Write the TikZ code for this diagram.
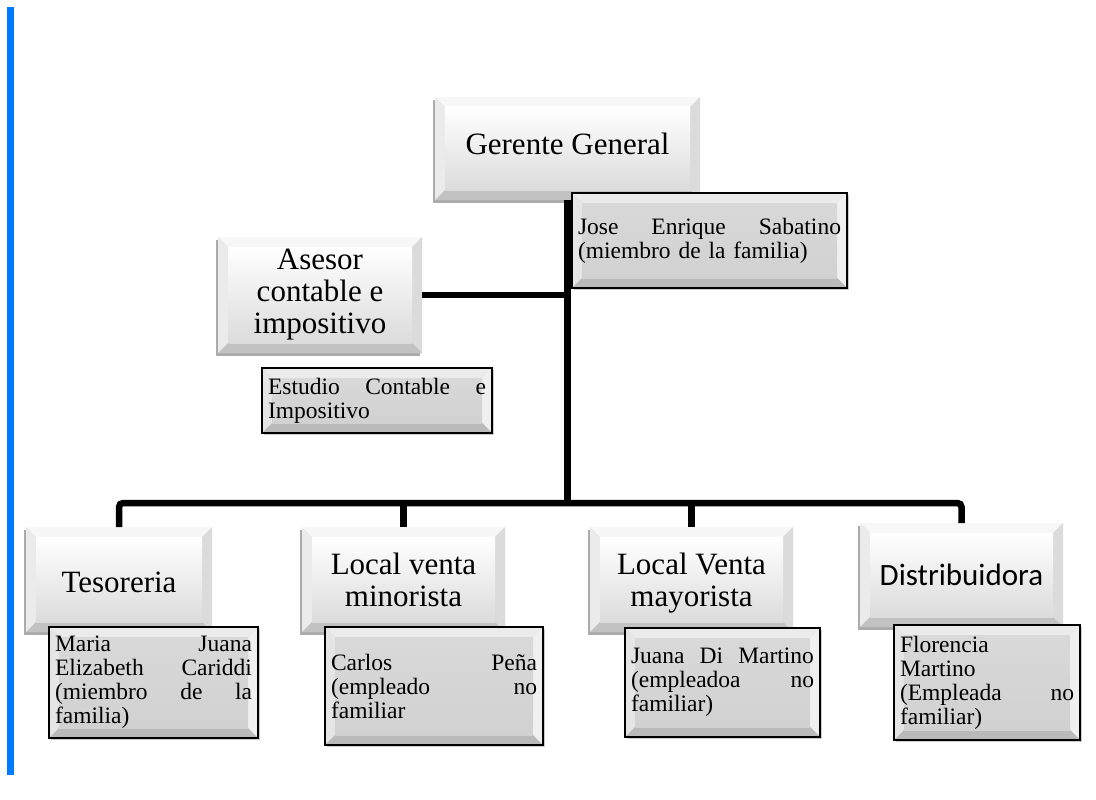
\documentclass[tikz,border=0pt]{standalone}
\usepackage{fontspec}
\setmainfont{Liberation Serif}
\newfontfamily\calibfont{Carlito}
\usetikzlibrary{calc,shadows}
\definecolor{barblue}{RGB}{0,122,255}
\newcommand\bevelfill[7]{%
  \path (path picture bounding box.north west) coordinate (pNW)
        (path picture bounding box.north east) coordinate (pNE)
        (path picture bounding box.south west) coordinate (pSW)
        (path picture bounding box.south east) coordinate (pSE);
  \path ($(pNW)+(#1,-#1)$) coordinate (qNW)
        ($(pNE)+(-#1,-#1)$) coordinate (qNE)
        ($(pSW)+(#1,#1)$) coordinate (qSW)
        ($(pSE)+(-#1,#1)$) coordinate (qSE);
  \fill[#2] (pNW)--(pNE)--(qNE)--(qNW)--cycle;
  \fill[#3] (pNW)--(qNW)--(qSW)--(pSW)--cycle;
  \fill[#4] (pNE)--(pSE)--(qSE)--(qNE)--cycle;
  \fill[#5] (pSW)--(qSW)--(qSE)--(pSE)--cycle;
  \shade[top color=#6,bottom color=#7] (qNW) rectangle (qSE);
}
\newcommand\nodepth[1]{\raisebox{0pt}[\height][0pt]{#1}}
\begin{document}
\begin{tikzpicture}[x=1pt,y=-1pt,
  namebox/.style={rectangle, inner sep=0pt, outer sep=0pt, align=center,
    font=\fontsize{31}{32}\selectfont, fill=black!10,
    drop shadow={shadow xshift=-2.5pt, shadow yshift=-3pt, fill=black!60, opacity=.55},
    path picture={\bevelfill{10pt}{black!3}{black!8}{black!14}{black!24}{white}{black!14}}},
  subbox/.style={rectangle, inner xsep=6pt, inner ysep=0pt, outer sep=0pt, align=left,
    font=\fontsize{23.5}{24}\selectfont, draw=black, line width=2pt, fill=black!17,
    drop shadow={shadow xshift=1.5pt, shadow yshift=-1.5pt, fill=black!50, opacity=.4},
    path picture={\bevelfill{10pt}{black!8}{black!10}{black!6}{black!27}{black!15}{black!18}}},
  conn/.style={line width=6.5pt, draw=black}
]
\useasboundingbox (0,0) rectangle (1096,800);
\fill[barblue] (7,7) rectangle (14,775);

% name boxes
\node[namebox, minimum width=265pt, minimum height=103pt, text height=21pt, text depth=9pt] (gg) at (567.5,148.5) {Gerente General};
\node[namebox, minimum width=204pt, minimum height=116pt] (as) at (320,295) {Asesor\\contable e\\impositivo};
\node[namebox, minimum width=186pt, minimum height=105pt, text height=25pt, text depth=0pt] (tes) at (119,579.5) {Tesoreria};
\node[namebox, minimum width=203pt, minimum height=105pt] (lmin) at (403.5,579.5) {Local venta\\minorista};
\node[namebox, minimum width=203pt, minimum height=105pt] (lmay) at (691.5,579.5) {Local Venta\\\nodepth{mayorista}};
\node[namebox, font=\calibfont\fontsize{31}{32}\selectfont, minimum width=203pt, minimum height=104pt] (dist) at (961.5,575) {Distribuidora};

% sub boxes
\node[subbox, text width=263pt, minimum height=95pt] (jose) at (709.5,240.5)
  {Jose\hfill Enrique\hfill Sabatino\\(miembro de la familia)};
\node[subbox, text width=218pt, minimum height=65pt] (est) at (377,400.5)
  {Estudio\hfill Contable\hfill e\\Impositivo};
\node[subbox, text width=197pt, minimum height=111pt] (maria) at (153.5,682.5)
  {Maria\hfill Juana\\Elizabeth\hfill Cariddi\\(miembro\hfill de\hfill la\\familia)};
\node[subbox, text width=206pt, minimum height=118pt] (carlos) at (434,686)
  {Carlos\hfill Peña\\(empleado\hfill no\\familiar};
\node[subbox, text width=183pt, minimum height=109pt] (juana) at (722.5,682.5)
  {Juana\hfill Di\hfill Martino\\(empleadoa\hfill no\\familiar)};
\node[subbox, text width=174pt, minimum height=115pt] (flor) at (987,682.5)
  {Florencia\\Martino\\(Empleada\hfill no\\familiar)};

% connectors
\coordinate (bus) at (567.5,503);
\draw[conn] (gg.south) -- (gg.south |- bus);
\draw[conn] (as.east) -- (as.east -| gg.south);
\draw[conn, rounded corners=4pt] (tes.north) |- (bus) -| (dist.north);
\draw[conn] (lmin.north) -- (lmin.north |- bus);
\draw[conn] (lmay.north) -- (lmay.north |- bus);
\end{tikzpicture}
\end{document}
